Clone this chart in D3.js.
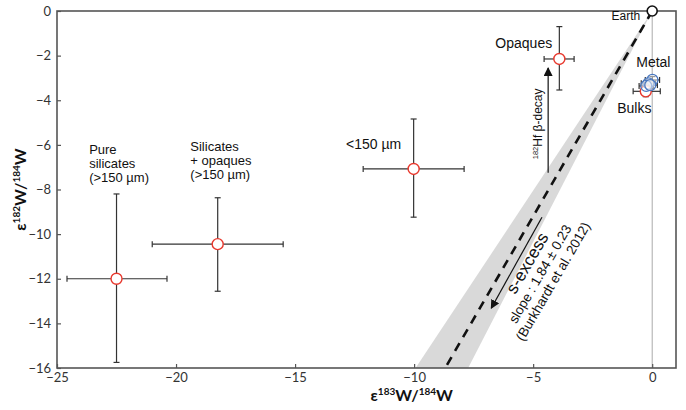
<!DOCTYPE html>
<html>
<head>
<meta charset="utf-8">
<script src="https://cdn.jsdelivr.net/npm/d3@7"></script>
<style>
  body { margin: 0; background: #fff; }
  svg { display: block; }
  .tick text { font-family: Lato, "Open Sans", sans-serif; font-size: 13px; fill: #333; }
  .lbl { font-family: "Liberation Sans", Arial, sans-serif; fill: #111; }
</style>
</head>
<body>
<div id="chart"></div>
<script>
// sample fractions (red circles)
var names = ["Pure silicates", "Silicates + opaques", "<150 µm", "Opaques", "Bulks"];
var e183 = [-22.5, -18.25, -10.02, -3.9, -0.27];
var e182 = [-12.0, -10.45, -7.08, -2.15, -3.6];
var e183Lo = [-24.58, -21.0, -12.14, -4.54, -0.8];
var e183Hi = [-20.38, -15.5, -7.9, -3.28, 0.34];
var e182Lo = [-15.75, -12.56, -9.24, -3.54, -3.84];
var e182Hi = [-8.2, -8.37, -4.84, -0.7, -3.36];

// metal (blue circles)
var metal183 = [0.01, -0.16, -0.25, -0.08];
var metal182 = [-3.09, -3.24, -3.36, -3.32];
var metalErr183 = [0.3, 0.3, 0.3, 0.3];
var metalErr182 = [0.15, 0.15, 0.15, 0.15];

// Earth
var earth = [0, 0];

// s-process slope (Burkhardt et al. 2012)
var slope = 1.84;
var slopeErr = 0.23;

var xTicks = [-25, -20, -15, -10, -5, 0];
var yTicks = [0, -2, -4, -6, -8, -10, -12, -14, -16];

function chart() {
  var W = 686, H = 410;
  var margin = {top: 11, right: 10, bottom: 42, left: 57};
  var w = W - margin.left - margin.right;
  var h = H - margin.top - margin.bottom;

  var svg = d3.select("#chart").append("svg")
    .attr("width", W).attr("height", H);

  var defs = svg.append("defs");
  defs.append("marker")
    .attr("id", "arrow")
    .attr("viewBox", "0 0 10 10")
    .attr("refX", 9).attr("refY", 5)
    .attr("markerWidth", 9).attr("markerHeight", 9)
    .attr("markerUnits", "userSpaceOnUse")
    .attr("orient", "auto")
    .append("path")
    .attr("d", "M0,0 L10,5 L0,10 Z")
    .attr("fill", "#111");

  var g = svg.append("g")
    .attr("transform", "translate(" + margin.left + "," + margin.top + ")");

  var x = d3.scaleLinear().domain([-25, 1]).range([0, w]);
  var y = d3.scaleLinear().domain([-16, 0]).range([h, 0]);

  // grey band for slope uncertainty
  var band = [[0, 0], [-16 / (slope - slopeErr), -16], [-16 / (slope + slopeErr), -16]];
  g.append("path")
    .attr("d", "M" + band.map(function (p) { return x(p[0]) + "," + y(p[1]); }).join("L") + "Z")
    .attr("fill", "#d9d9d9");

  // vertical line at 0
  g.append("line")
    .attr("x1", x(0)).attr("x2", x(0))
    .attr("y1", y(0)).attr("y2", y(-16))
    .attr("stroke", "#aaa").attr("stroke-width", 1);

  // dashed mixing line
  g.append("line")
    .attr("x1", x(0)).attr("y1", y(0))
    .attr("x2", x(-16 / slope)).attr("y2", y(-16))
    .attr("stroke", "#111").attr("stroke-width", 2.6)
    .attr("stroke-dasharray", "9,7");

  // axes
  var xAxis = d3.axisBottom(x).tickValues(xTicks).tickSize(-4).tickPadding(5);
  var yAxis = d3.axisLeft(y).tickValues(yTicks).tickSize(-4).tickPadding(6);

  var gx = g.append("g").attr("transform", "translate(0," + h + ")").call(xAxis);
  var gy = g.append("g").call(yAxis);
  [gx, gy].forEach(function (a) {
    a.select(".domain").remove();
    a.selectAll(".tick line").attr("stroke", "#555").attr("stroke-width", 1.2);
  });

  // frame
  g.append("rect")
    .attr("width", w).attr("height", h)
    .attr("fill", "none").attr("stroke", "#555").attr("stroke-width", 1.6);

  // Hf decay arrow
  g.append("line")
    .attr("x1", x(-4.37)).attr("x2", x(-4.37))
    .attr("y1", y(-7.25)).attr("y2", y(-2.55))
    .attr("stroke", "#111").attr("stroke-width", 1.2)
    .attr("marker-end", "url(#arrow)");
  var hf = g.append("text").attr("class", "lbl")
    .attr("transform", "translate(" + (x(-4.37) - 6) + "," + y(-5.06) + ") rotate(-90)")
    .attr("text-anchor", "middle")
    .style("font-size", "12px");
  hf.append("tspan").attr("font-size", "7.5px").attr("dy", "-4.5").text("182");
  hf.append("tspan").attr("dy", "4.5").text("Hf β-decay");

  // s-excess arrow
  g.append("line")
    .attr("x1", x(-4.63)).attr("y1", y(-9.24))
    .attr("x2", x(-6.76)).attr("y2", y(-13.32))
    .attr("stroke", "#111").attr("stroke-width", 1.2)
    .attr("marker-end", "url(#arrow)");

  var ang = -Math.atan((slope * (y(-1) - y(0))) / (x(0) - x(-1))) * 180 / Math.PI;
  var sg = g.append("g")
    .attr("transform", "translate(" + x(-5.26) + "," + y(-11.29) + ") rotate(" + ang + ")");
  sg.append("text").attr("class", "lbl").attr("text-anchor", "middle")
    .attr("y", 6).style("font-size", "17px").text("s-excess");
  sg.append("text").attr("class", "lbl").attr("text-anchor", "middle")
    .attr("x", -3).attr("y", 21.5).style("font-size", "13.5px").text("slope : 1.84 ± 0.23");
  sg.append("text").attr("class", "lbl").attr("text-anchor", "middle")
    .attr("x", -3).attr("y", 36.5).style("font-size", "13.5px").text("(Burkhardt et al. 2012)");

  // error bars
  function errorBars(xs, ys, xl, xh, yl, yh) {
    var cap = 3;
    xs.forEach(function (_, i) {
      var cx = x(xs[i]), cy = y(ys[i]);
      var eb = g.append("g").attr("stroke", "#333").attr("stroke-width", 1.2);
      eb.append("line").attr("x1", x(xl[i])).attr("x2", x(xh[i])).attr("y1", cy).attr("y2", cy);
      eb.append("line").attr("x1", cx).attr("x2", cx).attr("y1", y(yl[i])).attr("y2", y(yh[i]));
      [xl[i], xh[i]].forEach(function (v) {
        eb.append("line").attr("x1", x(v)).attr("x2", x(v)).attr("y1", cy - cap).attr("y2", cy + cap);
      });
      [yl[i], yh[i]].forEach(function (v) {
        eb.append("line").attr("x1", cx - cap).attr("x2", cx + cap).attr("y1", y(v)).attr("y2", y(v));
      });
    });
  }

  errorBars(e183, e182, e183Lo, e183Hi, e182Lo, e182Hi);
  errorBars(metal183, metal182,
    metal183.map(function (v, i) { return v - metalErr183[i]; }),
    metal183.map(function (v, i) { return v + metalErr183[i]; }),
    metal182.map(function (v, i) { return v - metalErr182[i]; }),
    metal182.map(function (v, i) { return v + metalErr182[i]; }));

  // sample circles
  g.selectAll("circle.sample")
    .data(e183.map(function (v, i) { return [v, e182[i]]; }))
    .enter().append("circle")
    .attr("class", "sample")
    .attr("cx", function (d) { return x(d[0]); })
    .attr("cy", function (d) { return y(d[1]); })
    .attr("r", 5.5)
    .attr("fill", "#fff")
    .attr("stroke", "#e8392e").attr("stroke-width", 1.4);

  g.selectAll("circle.metal")
    .data(metal183.map(function (v, i) { return [v, metal182[i]]; }))
    .enter().append("circle")
    .attr("class", "metal")
    .attr("cx", function (d) { return x(d[0]); })
    .attr("cy", function (d) { return y(d[1]); })
    .attr("r", 5.5)
    .attr("fill", "rgba(255,255,255,0.5)")
    .attr("stroke", "#4a78c0").attr("stroke-width", 1.3);

  g.append("circle")
    .attr("cx", x(earth[0])).attr("cy", y(earth[1]))
    .attr("r", 5)
    .attr("fill", "#fff").attr("stroke", "#111").attr("stroke-width", 1.6);

  // text labels
  function label(lines, px, py, anchor, size, lh) {
    var t = g.append("text").attr("class", "lbl")
      .attr("x", x(px)).attr("y", y(py))
      .attr("text-anchor", anchor || "start")
      .style("font-size", (size || 14) + "px");
    lines.forEach(function (s, i) {
      t.append("tspan").attr("x", x(px)).attr("dy", i === 0 ? 0 : (lh || 14)).text(s);
    });
  }
  label(["Pure", "silicates", "(>150 µm)"], -23.65, -6.4, "start", 13, 14);
  label(["Silicates", "+ opaques", "(>150 µm)"], -19.4, -6.27, "start", 13, 14);
  label(["<150 µm"], -12.86, -6.19);
  label(["Opaques"], -4.2, -1.66, "end");
  label(["Earth"], -0.5, -0.42, "end", 12);
  label(["Metal"], -0.67, -2.53);
  label(["Bulks"], -1.47, -4.57);

  // axis titles
  var xt = svg.append("text")
    .attr("x", margin.left + x(-10.1)).attr("y", 401)
    .attr("text-anchor", "middle")
    .style("font-family", "Lato, sans-serif").style("font-weight", "bold").style("font-size", "16px")
    .attr("fill", "#111");
  xt.append("tspan").text("ε");
  xt.append("tspan").attr("font-size", "10px").attr("dy", -6).text("183");
  xt.append("tspan").attr("dy", 6).text("W/");
  xt.append("tspan").attr("font-size", "10px").attr("dy", -6).text("184");
  xt.append("tspan").attr("dy", 6).text("W");

  var yt = svg.append("text")
    .attr("transform", "translate(26," + (margin.top + y(-8.0)) + ") rotate(-90)")
    .attr("text-anchor", "middle")
    .style("font-family", "Lato, sans-serif").style("font-weight", "bold").style("font-size", "16px")
    .attr("fill", "#111");
  yt.append("tspan").text("ε");
  yt.append("tspan").attr("font-size", "10px").attr("dy", -6).text("182");
  yt.append("tspan").attr("dy", 6).text("W/");
  yt.append("tspan").attr("font-size", "10px").attr("dy", -6).text("184");
  yt.append("tspan").attr("dy", 6).text("W");
}

window.onload = function () {
  chart();
};
</script>
</body>
</html>
